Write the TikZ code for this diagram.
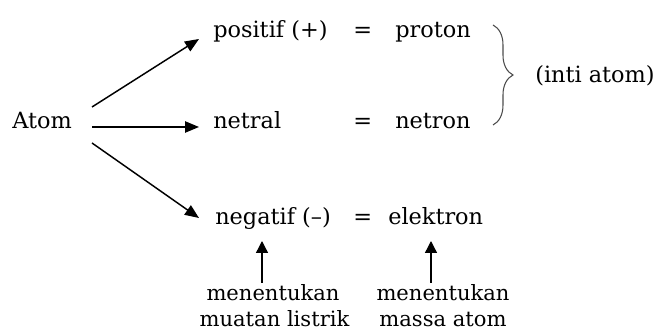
\documentclass[tikz,border=0pt]{standalone}
\usepackage{fontspec}
\setmainfont{DejaVu Serif}
\usetikzlibrary{arrows.meta,calc,decorations.pathreplacing}
\begin{document}
\begin{tikzpicture}[x=0.75pt,y=-0.75pt,
  lbl/.style={inner sep=0pt,anchor=base west,font=\fontsize{16.8}{19}\selectfont},
  lblc/.style={inner sep=0pt,anchor=base,font=\fontsize{15.8}{18}\selectfont},
  arr/.style={line width=1.1pt,-{Triangle[length=10.5pt,width=8.5pt]}},
  varr/.style={line width=1pt,-{Triangle[length=9pt,width=9pt]}},
  bracestyle/.style={draw=black!70,line width=0.8pt,decorate,decoration={brace,amplitude=15pt}}]
\useasboundingbox (0,0) rectangle (662,331);
\node[lbl] (atom) at (12,129) {Atom};
\node[lbl] (pos) at (213,38) {positif (+)};
\node[lbl] (neu) at (213,129) {netral};
\node[lbl] (neg) at (215,225) {negatif (–)};
\node[lbl] (eq1) at (353,38) {=};
\node[lbl] (eq2) at (353,129) {=};
\node[lbl] (eq3) at (353,225) {=};
\node[lbl] (pro) at (395,38) {proton};
\node[lbl] (net) at (395,129) {netron};
\node[lbl] (ele) at (388,225) {elektron};
\node[lbl] (inti) at (535,83) {(inti atom)};
\node[lblc] (ml1) at (273,301) {menentukan};
\node[lblc] (ml2) at (274.5,327) {muatan listrik};
\node[lblc] (mr1) at (443,301) {menentukan};
\node[lblc] (mr2) at (443,327) {massa atom};
\coordinate (bt) at (493,25);
\coordinate (bb) at (493,125);
\draw[bracestyle] (bt) -- (bb);
\draw[arr] ($(12,129)+(80,-22)$) -- ($(pos.base west)+(-14,1)$);
\draw[arr] ($(12,129)+(80,-2)$) -- ($(neu.base west)+(-14,-2)$);
\draw[arr] ($(12,129)+(80,14)$) -- ($(neg.base west)+(-16,-7)$);
\draw[varr] ($(ml1.base)+(-11,-18)$) -- ($(neg.base west)+(47,16)$);
\draw[varr] ($(mr1.base)+(-12,-18)$) -- ($(mr1.base)+(-12,-60)$);
\end{tikzpicture}
\end{document}
